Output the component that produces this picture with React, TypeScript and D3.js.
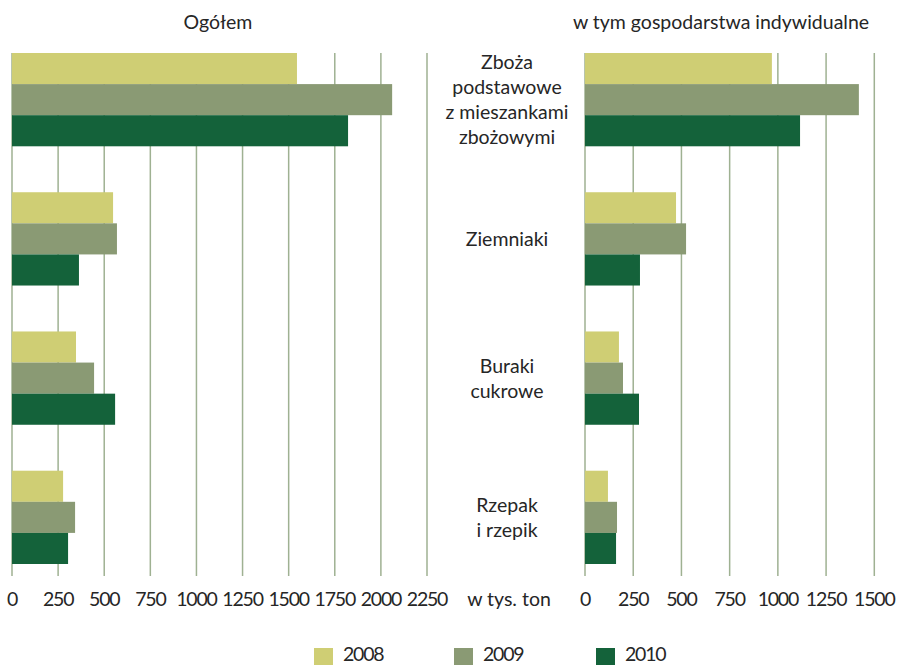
import React from 'react';
import * as d3 from 'd3';

// categories and series (tys. ton)
const categories = ['Zboża', 'Ziemniaki', 'Buraki', 'Rzepak'];
const categoryLabels = [
  ['Zboża', 'podstawowe', 'z mieszankami', 'zbożowymi'],
  ['Ziemniaki'],
  ['Buraki', 'cukrowe'],
  ['Rzepak', 'i rzepik'],
];
const years = ['2008', '2009', '2010'];
const totalValues = [
  [1545, 2061, 1822],
  [548, 569, 363],
  [347, 445, 559],
  [277, 342, 304],
];
const privateValues = [
  [969, 1420, 1115],
  [472, 524, 285],
  [176, 197, 280],
  [119, 166, 161],
];
const leftTicks = [0, 250, 500, 750, 1000, 1250, 1500, 1750, 2000, 2250];
const rightTicks = [0, 250, 500, 750, 1000, 1250, 1500];
const colors = ['#cfce74', '#8a9a74', '#14623a'];

const W = 902;
const H = 665;
const FONT = 'Lato, sans-serif';
const FS = 19.5;
const TEXT = '#262626';
const GRID = '#9fb192';
const gridTop = 53;
const gridBottom = 576;

const yBand = d3.scaleBand<string>().domain(categories).range([53, 564]).paddingInner(0.33).paddingOuter(0);
const ySub = d3.scaleBand<string>().domain(years).range([0, yBand.bandwidth()]);

const Panel = ({ x, ticks, values, title, titleX }: { x: d3.ScaleLinear<number, number>; ticks: number[]; values: number[][]; title: string; titleX: number }) => (
  <g>
    <text x={titleX} y={29} textAnchor="middle" fontSize={FS} fill={TEXT}>{title}</text>
    {ticks.map(t => (
      <g key={t}>
        <line x1={x(t)} x2={x(t)} y1={gridTop} y2={gridBottom} stroke={GRID} strokeWidth={1.5} />
        <text x={x(t)} y={606} textAnchor="middle" fontSize={FS} letterSpacing={-1.2} fill={TEXT}>{t}</text>
      </g>
    ))}
    {categories.map((c, i) => (
      <g key={c} transform={`translate(0,${yBand(c)})`}>
        {years.map((yr, j) => (
          <rect key={yr} x={x(0)} y={ySub(yr)} width={x(values[i][j]) - x(0)} height={ySub.bandwidth()} fill={colors[j]} />
        ))}
      </g>
    ))}
  </g>
);

export default function App() {
  const xLeft = d3.scaleLinear().domain([0, 2250]).range([12, 427]);
  const xRight = d3.scaleLinear().domain([0, 1500]).range([585, 874.3]);
  const lineH = 25;
  return (
    <svg width={W} height={H} style={{ position: 'absolute', left: 0, top: 0, background: '#fff' }} fontFamily={FONT}>
      <Panel x={xLeft} ticks={leftTicks} values={totalValues} title="Ogółem" titleX={218} />
      <Panel x={xRight} ticks={rightTicks} values={privateValues} title="w tym gospodarstwa indywidualne" titleX={721} />
      {categories.map((c, i) => {
        const lines = categoryLabels[i];
        const cy = (yBand(c) as number) + yBand.bandwidth() / 2;
        return (
          <text key={c} textAnchor="middle" fontSize={FS} fill={TEXT}>
            {lines.map((l, k) => (
              <tspan key={k} x={507} y={cy + (k - (lines.length - 1) / 2) * lineH + 7}>{l}</tspan>
            ))}
          </text>
        );
      })}
      <text x={509} y={606} textAnchor="middle" fontSize={FS} fill={TEXT}>w tys. ton</text>
      {years.map((yr, j) => {
        const lx = [314, 454, 596][j];
        return (
          <g key={yr}>
            <rect x={lx} y={648} width={19} height={17} fill={colors[j]} />
            <text x={lx + 29} y={661} fontSize={FS} letterSpacing={-1.2} fill={TEXT}>{yr}</text>
          </g>
        );
      })}
    </svg>
  );
}
